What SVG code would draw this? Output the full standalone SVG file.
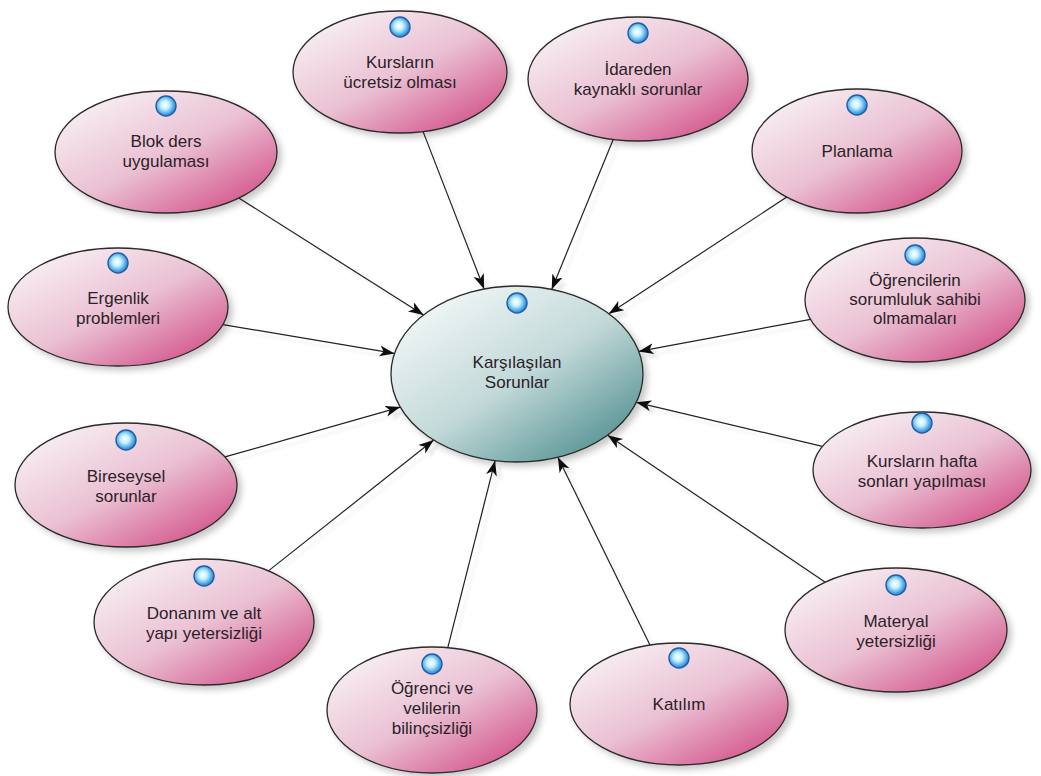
<svg xmlns="http://www.w3.org/2000/svg" width="1041" height="776" viewBox="0 0 1041 776">
<defs>
<style>
.pink{fill:url(#gPink);stroke:#2a2a2a;stroke-width:1.3;filter:url(#shadow)}
.teal{fill:url(#gTeal);stroke:#2a2a2a;stroke-width:1.3;filter:url(#shadow)}
.bub{fill:url(#gBub);stroke:#1d5fa8;stroke-width:1.4}
.lbl{font-family:"Liberation Sans",Arial,sans-serif;font-size:17px;fill:#2b2228;text-anchor:middle}
.con{stroke:#222;stroke-width:1.2;fill:none;marker-end:url(#arr)}
</style>
<linearGradient id="gPink" x1="0.1" y1="0.1" x2="0.9" y2="0.95">
<stop offset="0" stop-color="#f8eff4"/>
<stop offset="0.5" stop-color="#eac0d2"/>
<stop offset="1" stop-color="#d24f88"/>
</linearGradient>
<linearGradient id="gTeal" x1="0.1" y1="0.1" x2="0.9" y2="0.95">
<stop offset="0" stop-color="#f2f7f7"/>
<stop offset="0.5" stop-color="#c3d9d9"/>
<stop offset="1" stop-color="#4e8e8e"/>
</linearGradient>
<radialGradient id="gBub" cx="0.45" cy="0.45" r="0.6">
<stop offset="0" stop-color="#ffffff"/>
<stop offset="0.35" stop-color="#c4f1ff"/>
<stop offset="0.8" stop-color="#3c9ae0"/>
<stop offset="1" stop-color="#2266b6"/>
</radialGradient>
<filter id="shadow" x="-20%" y="-20%" width="150%" height="150%">
<feDropShadow dx="4" dy="4" stdDeviation="3" flood-color="#000" flood-opacity="0.22"/>
</filter>
<filter id="lshadow" x="-10%" y="-10%" width="130%" height="130%">
<feDropShadow dx="5" dy="5" stdDeviation="1.5" flood-color="#000" flood-opacity="0.08"/>
</filter>
<marker id="arr" markerUnits="userSpaceOnUse" markerWidth="18" markerHeight="13" refX="15" refY="5.5" orient="auto">
<path d="M0,0 L15,5.5 L0,11 L4,5.5 Z" fill="#111"/>
</marker>
</defs>
<rect width="1041" height="776" fill="#ffffff"/>

<g id="connectors" filter="url(#lshadow)">
<line class="con" x1="238.8" y1="198" x2="423.6" y2="314.9"/>
<line class="con" x1="423.1" y1="131.6" x2="484.1" y2="289"/>
<line class="con" x1="613.2" y1="139.4" x2="551.7" y2="289.4"/>
<line class="con" x1="786.8" y1="197.1" x2="608.8" y2="313.8"/>
<line class="con" x1="810.5" y1="319.4" x2="638.7" y2="351.4"/>
<line class="con" x1="822.4" y1="446.4" x2="636.3" y2="402.3"/>
<line class="con" x1="825.3" y1="582.2" x2="607.6" y2="435.2"/>
<line class="con" x1="650.1" y1="645.2" x2="557.9" y2="457.2"/>
<line class="con" x1="447.8" y1="647.7" x2="495.1" y2="460.7"/>
<line class="con" x1="268.4" y1="570.9" x2="433.7" y2="440"/>
<line class="con" x1="225" y1="456.9" x2="400.3" y2="407.1"/>
<line class="con" x1="223" y1="324.6" x2="394.5" y2="353.4"/>
</g>

<g id="center">
<ellipse class="teal" cx="517" cy="374" rx="126" ry="88"/>
<circle class="bub" cx="517" cy="303" r="10"/>
<text class="lbl" x="517" y="368">Karşılaşılan</text>
<text class="lbl" x="517" y="388">Sorunlar</text>
</g>

<g id="n-kurslarin-ucretsiz">
<ellipse class="pink" cx="400" cy="72" rx="107" ry="61"/>
<circle class="bub" cx="400" cy="27" r="10"/>
<text class="lbl" x="400" y="68">Kursların</text>
<text class="lbl" x="400" y="88">ücretsiz olması</text>
</g>

<g id="n-idareden">
<ellipse class="pink" cx="638" cy="79" rx="110" ry="62"/>
<circle class="bub" cx="638" cy="33" r="10"/>
<text class="lbl" x="638" y="75">İdareden</text>
<text class="lbl" x="638" y="95">kaynaklı sorunlar</text>
</g>

<g id="n-planlama">
<ellipse class="pink" cx="857" cy="151" rx="105" ry="62"/>
<circle class="bub" cx="857" cy="105" r="10"/>
<text class="lbl" x="857" y="157">Planlama</text>
</g>

<g id="n-blok-ders">
<ellipse class="pink" cx="166" cy="152" rx="111" ry="61"/>
<circle class="bub" cx="166" cy="106" r="10"/>
<text class="lbl" x="166" y="147">Blok ders</text>
<text class="lbl" x="166" y="167">uygulaması</text>
</g>

<g id="n-ergenlik">
<ellipse class="pink" cx="118" cy="307" rx="110" ry="59"/>
<circle class="bub" cx="118" cy="263" r="10"/>
<text class="lbl" x="118" y="304">Ergenlik</text>
<text class="lbl" x="118" y="324">problemleri</text>
</g>

<g id="n-ogrencilerin">
<ellipse class="pink" cx="915" cy="300" rx="110" ry="62"/>
<circle class="bub" cx="915" cy="255" r="10"/>
<text class="lbl" x="915" y="286">Öğrencilerin</text>
<text class="lbl" x="915" y="305">sorumluluk sahibi</text>
<text class="lbl" x="915" y="324">olmamaları</text>
</g>

<g id="n-bireseysel">
<ellipse class="pink" cx="126" cy="485" rx="111" ry="62"/>
<circle class="bub" cx="126" cy="440" r="10"/>
<text class="lbl" x="126" y="482">Bireseysel</text>
<text class="lbl" x="126" y="502">sorunlar</text>
</g>

<g id="n-kurslarin-hafta">
<ellipse class="pink" cx="922" cy="470" rx="109" ry="58"/>
<circle class="bub" cx="922" cy="423" r="10"/>
<text class="lbl" x="922" y="467">Kursların hafta</text>
<text class="lbl" x="922" y="487">sonları yapılması</text>
</g>

<g id="n-donanim">
<ellipse class="pink" cx="204" cy="622" rx="110" ry="63"/>
<circle class="bub" cx="204" cy="576" r="10"/>
<text class="lbl" x="204" y="619">Donanım ve alt</text>
<text class="lbl" x="204" y="639">yapı yetersizliği</text>
</g>

<g id="n-materyal">
<ellipse class="pink" cx="896" cy="630" rx="111" ry="62"/>
<circle class="bub" cx="896" cy="585" r="10"/>
<text class="lbl" x="896" y="627">Materyal</text>
<text class="lbl" x="896" y="647">yetersizliği</text>
</g>

<g id="n-ogrenci-veli">
<ellipse class="pink" cx="432" cy="710" rx="105" ry="63"/>
<circle class="bub" cx="432" cy="664" r="10"/>
<text class="lbl" x="432" y="694">Öğrenci ve</text>
<text class="lbl" x="432" y="714">velilerin</text>
<text class="lbl" x="432" y="734">bilinçsizliği</text>
</g>

<g id="n-katilim">
<ellipse class="pink" cx="679" cy="704" rx="109" ry="61"/>
<circle class="bub" cx="679" cy="658" r="10"/>
<text class="lbl" x="679" y="710">Katılım</text>
</g>
</svg>
